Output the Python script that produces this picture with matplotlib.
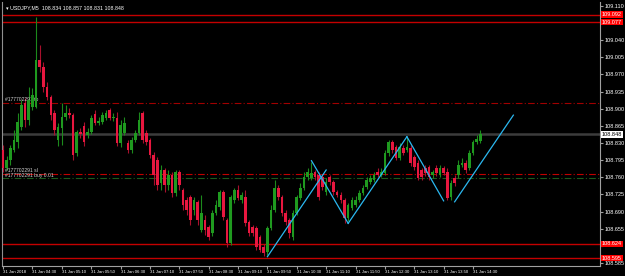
import matplotlib
matplotlib.use('Agg')
import matplotlib.pyplot as plt
import numpy as np

# USDJPY M5, 31 Jan 2018, one bar every 5 minutes from 03:50
opens = [
    108.816, 108.779, 108.795, 108.816, 108.832, 108.863, 108.912, 108.877, 108.903, 108.903,
    108.999, 108.985, 108.944, 108.924, 108.891, 108.836, 108.861, 108.883, 108.891, 108.887,
    108.809, 108.852, 108.865, 108.846, 108.852, 108.889, 108.871, 108.873, 108.881, 108.897,
    108.881, 108.881, 108.830, 108.850, 108.830, 108.816, 108.836, 108.850, 108.891, 108.850,
    108.836, 108.805, 108.795, 108.748, 108.775, 108.744, 108.764, 108.728, 108.771, 108.734,
    108.713, 108.720, 108.693, 108.709, 108.652, 108.673, 108.658, 108.646, 108.687, 108.699,
    108.730, 108.673, 108.626, 108.713, 108.734, 108.713, 108.720, 108.668, 108.658, 108.656,
    108.638, 108.617, 108.607, 108.656, 108.693, 108.738, 108.720, 108.687, 108.673, 108.638,
    108.687, 108.717, 108.738, 108.760, 108.758, 108.771, 108.764, 108.760, 108.730, 108.760,
    108.750, 108.730, 108.724, 108.713, 108.677, 108.697, 108.703, 108.713, 108.728, 108.740,
    108.750, 108.754, 108.771, 108.764, 108.769, 108.809, 108.832, 108.822, 108.799, 108.820,
    108.816, 108.820, 108.801, 108.789, 108.775, 108.779, 108.781, 108.764, 108.779, 108.764,
    108.779, 108.771, 108.720, 108.758, 108.764, 108.785, 108.789, 108.779, 108.809, 108.832,
    108.834]
highs = [
    108.826, 108.803, 108.826, 108.856, 108.891, 108.918, 108.922, 108.944, 108.942, 109.087,
    109.030, 108.995, 108.955, 108.928, 108.897, 108.871, 108.912, 108.907, 108.901, 108.891,
    108.856, 108.861, 108.873, 108.861, 108.887, 108.897, 108.883, 108.893, 108.897, 108.901,
    108.891, 108.893, 108.877, 108.883, 108.836, 108.842, 108.856, 108.893, 108.895, 108.856,
    108.840, 108.811, 108.801, 108.785, 108.779, 108.775, 108.771, 108.775, 108.775, 108.738,
    108.720, 108.724, 108.720, 108.713, 108.724, 108.683, 108.662, 108.693, 108.713, 108.734,
    108.734, 108.677, 108.724, 108.738, 108.744, 108.730, 108.734, 108.673, 108.662, 108.660,
    108.642, 108.623, 108.660, 108.703, 108.754, 108.744, 108.724, 108.693, 108.677, 108.693,
    108.724, 108.748, 108.771, 108.779, 108.791, 108.775, 108.771, 108.764, 108.758, 108.764,
    108.754, 108.734, 108.730, 108.717, 108.707, 108.720, 108.722, 108.734, 108.744, 108.760,
    108.764, 108.771, 108.779, 108.779, 108.816, 108.836, 108.836, 108.826, 108.830, 108.826,
    108.842, 108.826, 108.805, 108.795, 108.779, 108.785, 108.785, 108.775, 108.785, 108.785,
    108.783, 108.779, 108.754, 108.764, 108.795, 108.799, 108.795, 108.816, 108.836, 108.846,
    108.857]
lows = [
    108.771, 108.775, 108.785, 108.811, 108.820, 108.856, 108.863, 108.867, 108.897, 108.901,
    108.975, 108.934, 108.918, 108.877, 108.846, 108.824, 108.826, 108.877, 108.881, 108.795,
    108.803, 108.840, 108.824, 108.840, 108.848, 108.867, 108.867, 108.869, 108.877, 108.877,
    108.875, 108.824, 108.822, 108.846, 108.809, 108.809, 108.832, 108.846, 108.830, 108.826,
    108.799, 108.744, 108.734, 108.734, 108.730, 108.734, 108.720, 108.722, 108.734, 108.693,
    108.683, 108.662, 108.683, 108.662, 108.648, 108.642, 108.632, 108.640, 108.683, 108.693,
    108.673, 108.617, 108.621, 108.707, 108.713, 108.707, 108.660, 108.640, 108.640, 108.611,
    108.607, 108.599, 108.601, 108.652, 108.689, 108.713, 108.681, 108.662, 108.636, 108.632,
    108.683, 108.713, 108.734, 108.754, 108.754, 108.754, 108.713, 108.734, 108.724, 108.744,
    108.724, 108.720, 108.707, 108.666, 108.670, 108.693, 108.699, 108.709, 108.724, 108.736,
    108.746, 108.750, 108.760, 108.760, 108.764, 108.803, 108.809, 108.795, 108.795, 108.805,
    108.811, 108.783, 108.775, 108.754, 108.754, 108.762, 108.754, 108.758, 108.762, 108.760,
    108.764, 108.713, 108.713, 108.742, 108.758, 108.781, 108.769, 108.775, 108.805, 108.828,
    108.831]
closes = [
    108.779, 108.795, 108.820, 108.836, 108.873, 108.907, 108.877, 108.918, 108.928, 108.999,
    108.985, 108.944, 108.924, 108.887, 108.856, 108.863, 108.883, 108.891, 108.887, 108.805,
    108.852, 108.848, 108.832, 108.852, 108.881, 108.871, 108.875, 108.887, 108.891, 108.881,
    108.883, 108.830, 108.867, 108.871, 108.816, 108.836, 108.850, 108.877, 108.836, 108.832,
    108.805, 108.764, 108.744, 108.775, 108.744, 108.764, 108.728, 108.771, 108.744, 108.703,
    108.693, 108.673, 108.713, 108.673, 108.687, 108.652, 108.638, 108.687, 108.703, 108.730,
    108.679, 108.626, 108.720, 108.734, 108.717, 108.724, 108.666, 108.646, 108.646, 108.617,
    108.611, 108.605, 108.656, 108.693, 108.738, 108.720, 108.687, 108.668, 108.646, 108.687,
    108.720, 108.738, 108.760, 108.771, 108.769, 108.760, 108.720, 108.740, 108.750, 108.750,
    108.730, 108.724, 108.713, 108.677, 108.703, 108.713, 108.713, 108.728, 108.738, 108.754,
    108.758, 108.764, 108.764, 108.771, 108.809, 108.832, 108.816, 108.799, 108.822, 108.809,
    108.822, 108.789, 108.781, 108.758, 108.760, 108.769, 108.760, 108.771, 108.769, 108.779,
    108.769, 108.717, 108.748, 108.748, 108.785, 108.789, 108.775, 108.809, 108.832, 108.838,
    108.848]

time_labels = ['31 Jan 2018', '31 Jan 04:30', '31 Jan 05:10', '31 Jan 05:50', '31 Jan 06:30',
               '31 Jan 07:10', '31 Jan 07:50', '31 Jan 08:30', '31 Jan 09:10', '31 Jan 09:50',
               '31 Jan 10:30', '31 Jan 11:10', '31 Jan 11:50', '31 Jan 12:30', '31 Jan 13:10',
               '31 Jan 13:50', '31 Jan 14:30']
# scale marks; 109.075 and 108.620 sit under the red price tags
price_ticks = [109.110, 109.075, 109.040, 109.005, 108.970, 108.935, 108.900, 108.865,
               108.830, 108.795, 108.760, 108.725, 108.690, 108.655, 108.620, 108.585]
hidden_ticks = [109.075, 108.620]

red_levels = [109.092, 109.077, 108.624, 108.595]
tp_level = 108.912
sl_level = 108.767
entry_level = 108.759
bid = 108.848

# zigzag drawn by hand (bar index, price)
zz_lines = [
    ((72, 108.598), (88, 108.775)),
    ((84, 108.794), (94, 108.666)),
    ((94, 108.666), (110, 108.843)),
    ((110, 108.843), (120, 108.712)),
    ((123, 108.710), (139, 108.887)),
]

small_font = 'Liberation Sans'

o = np.array(opens)
h = np.array(highs)
l = np.array(lows)
c = np.array(closes)
idx = np.arange(len(o))

fig = plt.figure(figsize=(6.25, 2.76), dpi=100, facecolor='black')
ax = fig.add_axes([2 / 625, 10 / 276, 598 / 625, 264 / 276])
ax.set_facecolor('black')
ax.set_xlim(-0.3, 162.6)
ax.set_ylim(108.579, 109.118)

up = c >= o
cols = np.where(up, '#1f9a1f', '#e8173f')
wick_cols = np.where(up, '#1c8a1c', '#a8102c')

ax.vlines(idx, l, h, colors=wick_cols, linewidth=0.8, zorder=3)
body = np.maximum(np.abs(c - o), 0.0015)
ax.bar(idx, body, bottom=np.minimum(o, c), width=0.72, color=cols, linewidth=0, zorder=4)

for lv in red_levels:
    ax.axhline(lv, color='#c40000', linewidth=1.0, zorder=2)
ax.axhline(tp_level, color='#a00000', linewidth=0.8, linestyle=(0, (6, 2, 1, 2)), zorder=2)
ax.axhline(sl_level, color='#c00000', linewidth=0.8, linestyle=(0, (6, 2, 1, 2)), zorder=2)
ax.axhline(entry_level, color='#1c5a1c', linewidth=0.8, linestyle=(0, (6, 2, 1, 2)), zorder=2)
ax.axhline(bid, color='#3c3c3c', linewidth=1.8, zorder=1)

for (x0, y0), (x1, y1) in zz_lines:
    ax.plot([x0, x1], [y0, y1], color='#2bb8f0', linewidth=0.9, zorder=6)

# order labels
ax.text(0.6, tp_level + 0.002, '#177702291 tp', color='#d0d0d0', fontsize=3.6,
        family=small_font, va='bottom')
ax.text(0.6, sl_level + 0.002, '#177702291 sl', color='#d0d0d0', fontsize=3.6,
        family=small_font, va='bottom')
ax.text(0.6, entry_level + 0.0005, '#177702291 buy 0.01', color='#d0d0d0', fontsize=3.6,
        family=small_font, va='bottom')

ax.text(0.006, 0.988, '\u25be USDJPY,M5  108.834 108.857 108.831 108.848', transform=ax.transAxes,
        color='white', fontsize=3.8, family=['Liberation Sans', 'DejaVu Sans'], va='top', ha='left')

# axes frame
ax.spines['top'].set_visible(False)
ax.spines['left'].set_color('#909090')
ax.spines['right'].set_color('#a0a0a0')
ax.spines['bottom'].set_color('#a0a0a0')
for s in ['left', 'right', 'bottom']:
    ax.spines[s].set_linewidth(0.8)

ax.yaxis.tick_right()
ax.set_yticks(price_ticks)
ax.set_yticklabels(['' if p in hidden_ticks else '%.3f' % p for p in price_ticks])
ax.tick_params(axis='y', colors='#a0a0a0', labelcolor='white', labelsize=4.0, length=2, pad=1)

ax.set_xticks(np.arange(len(time_labels)) * 8)
ax.set_xticklabels(time_labels, ha='left')
ax.tick_params(axis='x', colors='#a0a0a0', labelcolor='white', labelsize=3.1, length=2, pad=1)
for t in ax.get_xticklabels() + ax.get_yticklabels():
    t.set_family(small_font)

# price tags on the right scale
tr = ax.get_yaxis_transform()
for lv in red_levels:
    ax.text(1.003, lv, '%.3f' % lv, transform=tr, fontsize=4.0, family=small_font, color='white',
            va='center', ha='left', bbox=dict(boxstyle='square,pad=0.15', fc='#ff0000', ec='none'),
            zorder=10, clip_on=False)
ax.text(1.003, bid, '%.3f' % bid, transform=tr, fontsize=4.0, family=small_font, color='black',
        va='center', ha='left', bbox=dict(boxstyle='square,pad=0.15', fc='white', ec='none'),
        zorder=10, clip_on=False)

fig.savefig('out.png', dpi=100, facecolor='black')
